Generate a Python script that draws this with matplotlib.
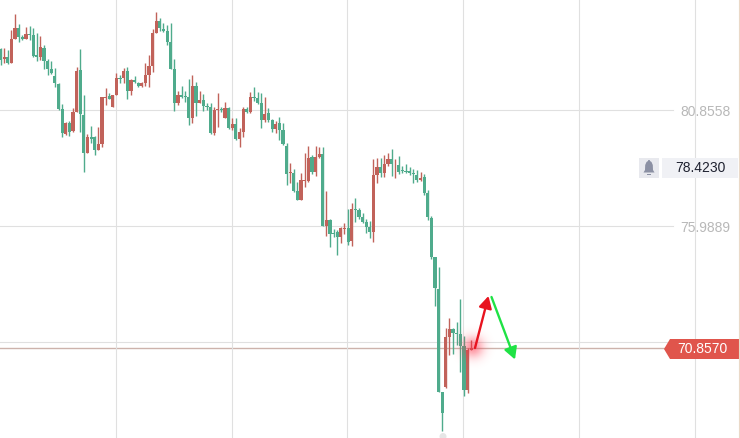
import numpy as np
import matplotlib
matplotlib.use("Agg")
import matplotlib.pyplot as plt
from matplotlib.patches import Polygon, Rectangle, Circle

plt.rcParams['font.family'] = ['Liberation Sans', 'DejaVu Sans']

highs = [83.46,83.46,83.37,84.21,84.88,84.46,84.00,84.34,84.38,84.30,
         84.09,83.96,83.58,82.99,82.91,82.62,81.99,81.11,80.35,80.39,
         80.94,82.66,83.41,81.48,79.85,80.18,79.76,80.14,81.40,81.78,
         81.57,81.48,82.41,82.32,82.62,82.66,82.16,82.28,82.03,82.03,
         82.83,83.16,84.25,84.97,84.71,84.50,84.42,84.50,82.99,81.65,
         81.86,81.65,82.16,82.32,82.03,81.65,81.53,81.15,81.15,80.98,
         81.57,80.98,81.19,80.98,80.52,80.52,80.10,80.98,80.98,81.61,
         81.82,81.61,81.57,81.40,80.94,80.48,80.39,80.56,80.31,79.47,
         78.63,78.38,77.83,78.21,79.05,79.34,78.97,79.34,79.30,79.30,
         77.46,76.28,75.86,75.82,75.95,76.11,76.70,76.95,77.16,76.74,
         76.53,76.28,76.20,78.80,78.84,78.84,78.97,79.05,79.22,78.80,
         78.92,78.50,78.59,78.46,78.38,78.34,78.25,78.17,77.50,76.41,
         74.69,74.25,69.02,71.71,72.13,71.71,71.96,72.92,71.37,70.87,
         71.20]
lows = [82.74,82.83,82.78,82.83,83.83,83.71,83.79,83.83,83.79,83.08,
        82.91,82.95,82.57,82.32,82.37,81.82,80.85,79.72,79.81,79.76,
        79.93,80.77,79.93,78.25,79.05,79.47,78.97,79.18,79.30,81.06,
        81.32,80.98,81.48,81.99,81.99,81.32,81.48,81.99,81.82,81.82,
        81.86,81.82,82.45,84.09,84.17,84.13,83.58,82.57,80.81,81.06,
        81.36,81.19,80.22,80.31,80.60,81.15,80.81,80.85,79.85,79.81,
        80.14,80.77,80.52,80.06,80.02,79.60,79.30,79.72,80.73,80.73,
        81.23,81.11,80.10,80.35,80.35,79.93,79.89,79.60,79.39,77.71,
        77.79,77.41,77.08,77.08,77.62,77.83,78.17,78.08,78.84,75.99,
        75.57,75.11,75.53,74.77,75.27,75.65,75.19,75.15,76.15,76.28,
        76.11,75.69,75.48,75.32,77.79,78.04,78.04,78.50,78.08,78.00,
        78.17,78.21,78.21,78.13,77.79,77.83,77.88,77.29,76.24,74.60,
        72.63,69.02,67.39,69.19,70.57,70.62,70.99,69.86,68.85,68.98,
        70.78]
opens = [83.41,82.99,83.08,82.83,83.83,84.30,83.92,83.83,84.04,84.00,
         83.16,83.08,83.46,82.91,82.57,82.28,81.95,80.90,79.85,80.31,
         79.97,80.77,82.53,80.64,79.05,79.72,79.72,79.18,79.43,81.36,
         81.44,80.98,81.48,82.20,82.20,82.49,81.65,82.11,81.99,81.86,
         81.99,82.32,82.70,84.09,84.59,84.25,84.17,83.71,82.57,81.15,
         81.48,81.44,81.40,80.52,81.86,81.15,81.27,81.02,80.98,79.89,
         80.85,80.90,80.52,80.94,80.10,80.27,79.64,79.93,80.90,80.77,
         81.40,81.36,81.15,80.43,80.73,80.43,80.06,80.31,80.02,79.34,
         78.21,78.21,77.46,77.08,77.88,77.88,78.88,78.25,78.88,79.01,
         75.99,76.24,75.69,75.74,75.53,75.86,75.90,75.36,76.70,76.66,
         76.37,76.15,75.95,75.74,78.13,78.46,78.21,78.59,78.80,78.57,
         78.55,78.34,78.29,78.29,78.21,78.13,77.92,78.04,77.37,76.32,
         74.69,73.34,69.02,69.23,71.33,71.66,71.50,71.46,70.95,69.11,
         70.78]
closes = [82.95,83.08,82.83,83.83,84.30,83.92,83.83,84.04,84.02,83.12,
          83.08,83.50,82.91,82.57,82.41,81.99,80.90,79.89,80.31,79.93,
          80.77,82.49,80.69,79.05,79.72,79.64,79.18,79.43,81.40,81.40,
          81.32,81.48,82.20,82.16,82.49,81.65,82.11,82.03,81.86,81.99,
          82.32,82.70,84.09,84.59,84.30,84.17,83.71,82.57,81.15,81.48,
          81.40,81.42,80.52,81.86,81.15,81.27,81.02,80.98,79.89,80.85,
          80.90,80.85,80.94,80.10,80.27,79.64,79.93,80.90,80.77,81.40,
          81.36,81.15,80.43,80.69,80.43,80.06,80.27,80.02,79.43,78.17,
          78.25,77.46,77.08,77.92,77.92,78.84,78.25,78.88,79.01,75.99,
          76.24,75.65,75.65,75.53,75.90,75.90,75.32,76.70,76.66,76.37,
          76.15,75.95,75.74,78.13,78.46,78.21,78.59,78.80,78.59,78.59,
          78.25,78.29,78.27,78.21,78.17,77.92,78.00,77.37,76.37,74.69,
          73.39,69.02,68.14,71.33,71.66,71.50,71.46,70.95,69.11,70.78,
          70.87]
grid_candles = [31.8, 63.8, 95.8, 127.8, 159.8, 191.8]
price_ticks = [80.8558, 75.9889, 71.1220]
price_labels = ['80.8558', '75.9889', '']
last_price = 70.8570
last_label = '70.8570'
alert_label = '78.4230'

RED, GREEN = '#c1625a', '#4fab8c'
W, H = 740, 438

fig = plt.figure(figsize=(W/100, H/100), dpi=100, facecolor='white')
ax = fig.add_axes([0, 0, 1, 1])
ax.set_xlim(-0.166, 204.26)
ax.set_ylim(67.094, 85.4713)
for s in ax.spines.values():
    s.set_visible(False)

x = np.arange(len(opens))
o, c = np.array(opens), np.array(closes)
cols = [RED if cc >= oo else GREEN for oo, cc in zip(opens, closes)]

ax.set_xticks(grid_candles)
ax.tick_params(axis='x', length=0, labelbottom=False)
ax.grid(axis='x', color='#e0e0e0', lw=0.8, zorder=0)
ax.yaxis.tick_right()
ax.set_yticks(price_ticks, price_labels)
ax.tick_params(axis='y', length=0, pad=-7, labelsize=10, labelcolor='#b8b8b8')
for t in ax.get_yticklabels():
    t.set_ha('right')
for p in price_ticks:
    ax.axhline(p, xmin=0, xmax=673/W, color='#e0e0e0', lw=0.8, zorder=0)
ax.axhline(last_price, xmin=0, xmax=666/W, color='#cdb3ac', lw=1.0, zorder=1)

ax.vlines(x, lows, highs, colors=cols, lw=1.0, zorder=2)
ax.bar(x, np.maximum(np.abs(c - o), 0.03), bottom=np.minimum(o, c), width=0.88,
       color=cols, linewidth=0, zorder=3)

# pixel-space overlay for the drawing tools and badges
ov = fig.add_axes([0, 0, 1, 1], facecolor='none')
ov.set_xlim(0, W)
ov.set_ylim(H, 0)
ov.axis('off')

# glow
xx, yy = np.meshgrid(np.linspace(450, 496, 60), np.linspace(324, 370, 60))
glow = np.zeros(xx.shape + (4,))
glow[..., 0] = 1.0
glow[..., 1] = 0.15
glow[..., 2] = 0.25
glow[..., 3] = 0.5 * np.exp(-((xx-473)**2 + (yy-347)**2) / (2*7.5**2))
ov.imshow(glow, extent=(450, 496, 370, 324), aspect='auto', zorder=1, interpolation='bilinear')
ov.set_xlim(0, W)
ov.set_ylim(H, 0)

ov.annotate('', xy=(488.5, 296), xytext=(475, 348),
            arrowprops=dict(arrowstyle='-|>,head_length=0.55,head_width=0.3', color='#e8131f',
                            lw=1.7, mutation_scale=13, shrinkA=0, shrinkB=0), zorder=4)
ov.annotate('', xy=(515, 359.5), xytext=(491.5, 297),
            arrowprops=dict(arrowstyle='-|>,head_length=0.55,head_width=0.3', color='#1fe245',
                            lw=1.7, mutation_scale=13, shrinkA=0, shrinkB=0), zorder=4)

# bottom marker blob
ov.add_patch(Circle((443, 436.5), 3.5, fc='#e6e6e6', ec='none', zorder=2))

# alert badge
ov.add_patch(Rectangle((639, 158), 20, 20, fc='#e8e9ee', ec='none', zorder=2))
ov.add_patch(Rectangle((662, 158), 76, 20, fc='#f0f1f5', ec='none', zorder=2))
bell = [(643.5, 172.5), (645, 170), (645.2, 165), (646.5, 162), (648, 161), (648.3, 160),
        (649.7, 160), (650, 161), (651.5, 162), (652.8, 165), (653, 170), (654.5, 172.5)]
ov.add_patch(Polygon(bell, closed=True, fc='#8b90a3', ec='none', zorder=3))
ov.add_patch(Rectangle((647, 173.5), 4, 1.5, fc='#8b90a3', ec='none', zorder=3))
ov.text(700.5, 168, alert_label, ha='center', va='center', fontsize=10, color='#1f2230', zorder=4)

# last-price tag
ov.add_patch(Polygon([(664, 349), (670, 339), (740, 339), (740, 359), (670, 359)],
                     closed=True, fc='#e0554c', ec='none', zorder=3))
ov.text(702, 349, last_label, ha='center', va='center', fontsize=10, color='white', zorder=4)

# right edge line
ov.plot([738.5, 738.5], [0, H], color='#ead9c8', lw=0.8, zorder=5)

fig.savefig('out.png', dpi=100, facecolor='white')
